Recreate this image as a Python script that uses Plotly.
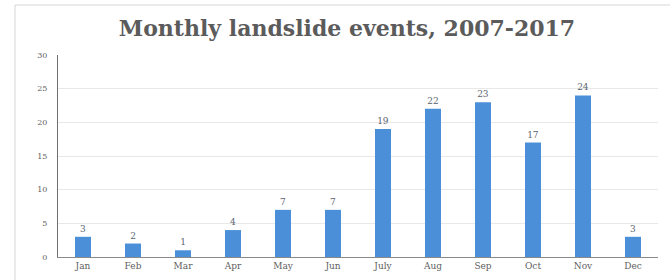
import plotly.graph_objects as go

months = ["Jan", "Feb", "Mar", "Apr", "May", "Jun", "July", "Aug", "Sep", "Oct", "Nov", "Dec"]
events = [3, 2, 1, 4, 7, 7, 19, 22, 23, 17, 24, 3]
y_ticks = [0, 5, 10, 15, 20, 25, 30]

fig = go.Figure()
fig.add_trace(go.Bar(
    x=months, y=events,
    marker=dict(color="#4a8fd8", line=dict(width=0)),
    text=[str(v) for v in events],
    textposition="outside",
    textfont=dict(family="DejaVu Serif", size=9, color="#5a6470"),
    cliponaxis=False,
))

fig.update_layout(
    width=670, height=280,
    margin=dict(l=58, r=12, t=55, b=23, autoexpand=False),
    paper_bgcolor="white", plot_bgcolor="white",
    bargap=0.68,
    showlegend=False,
    title=dict(
        text="<b>Monthly landslide events, 2007-2017</b>",
        x=347/670, xanchor="center", y=1 - 28/280, yanchor="middle",
        font=dict(family="DejaVu Serif", size=22, color="#5b5b5b"),
    ),
    xaxis=dict(
        showline=True, linecolor="#8a8a8a", linewidth=1,
        ticks="", tickfont=dict(family="DejaVu Serif", size=9, color="#606060"),
        showgrid=False,
    ),
    yaxis=dict(
        range=[0, 30], tickvals=y_ticks,
        showline=True, linecolor="#707070", linewidth=1,
        gridcolor="#e8e8e8", gridwidth=1,
        ticks="", ticklen=0, ticklabelstandoff=8,
        tickfont=dict(family="DejaVu Serif", size=8, color="#606060"),
        zeroline=False,
    ),
    shapes=[dict(
        type="rect", xref="paper", yref="paper",
        x0=(15 - 58) / 600, x1=(690 - 58) / 600,
        y0=(257 - 290) / 202, y1=(257 - 5) / 202,
        line=dict(color="#d6d6d6", width=1), fillcolor="rgba(0,0,0,0)",
        layer="below",
    )],
)

fig.write_html("out.html", config={"displayModeBar": False},
               post_script="document.body.style.margin='0';")
